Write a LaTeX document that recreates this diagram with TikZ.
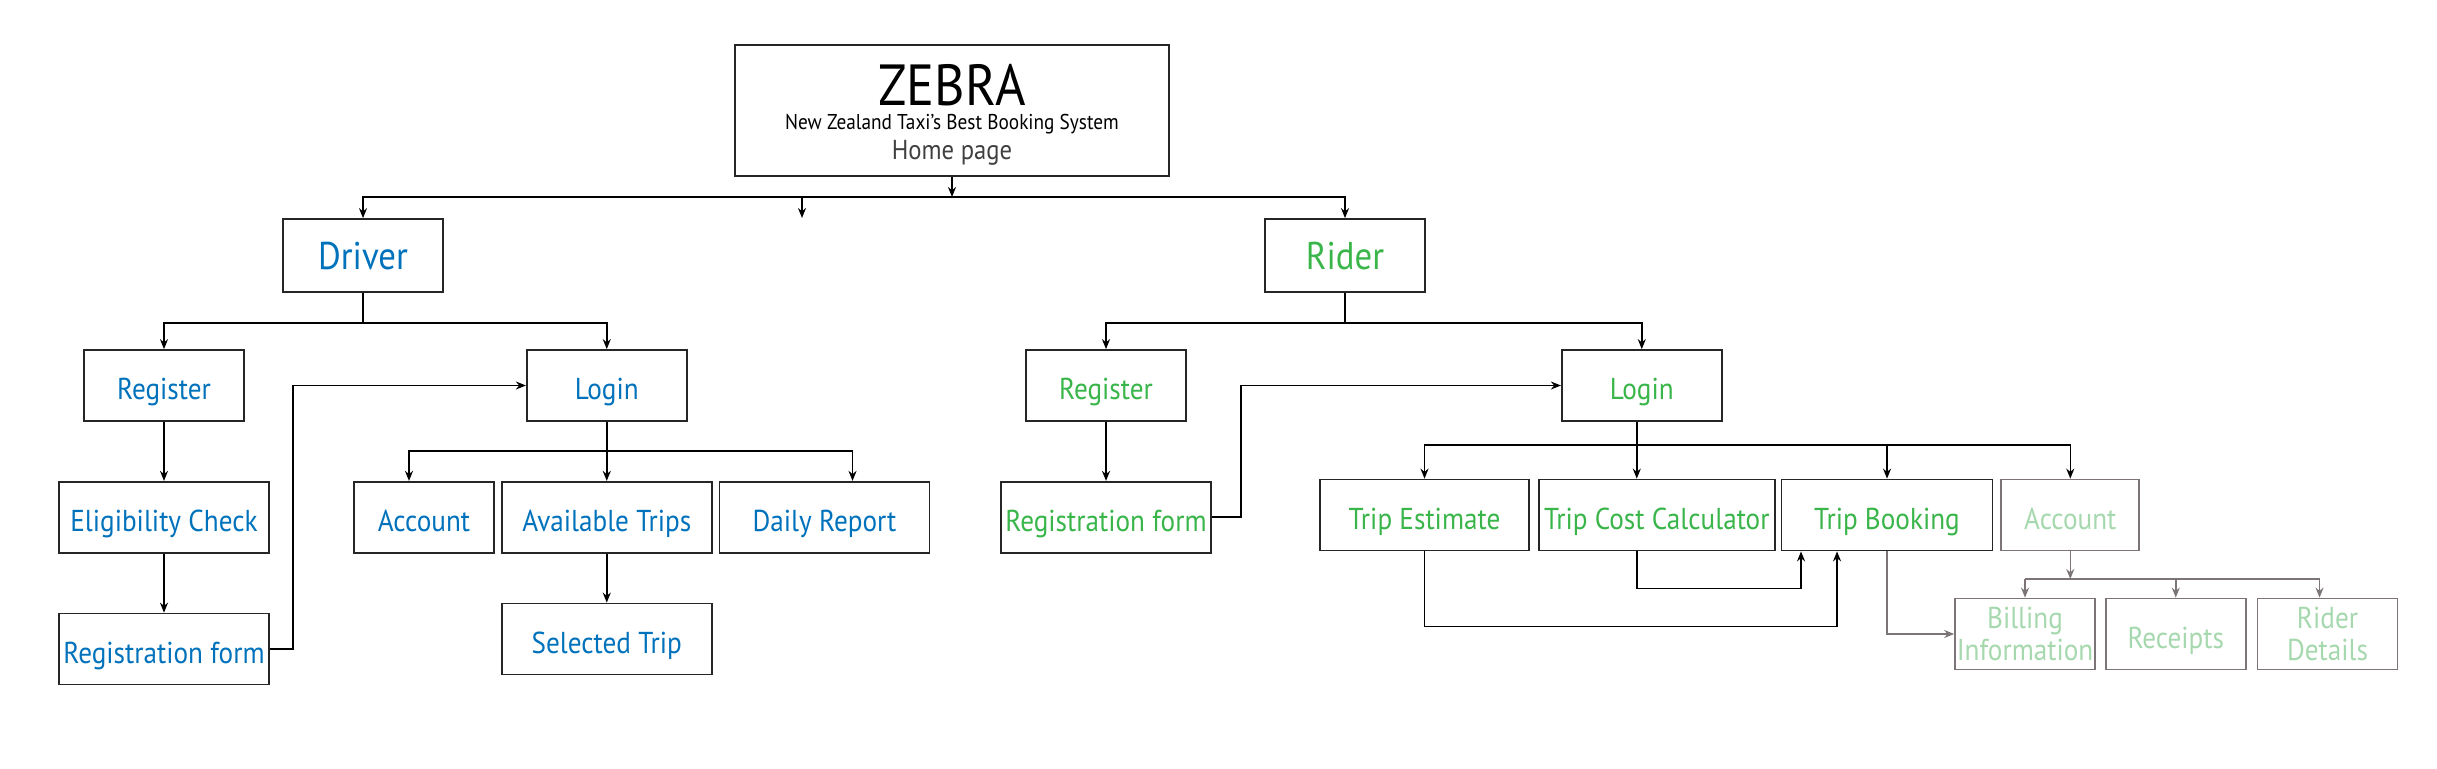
\documentclass[tikz,border=0pt]{standalone}
\usepackage{fontspec}
\setmainfont{PT Sans}[FakeStretch=0.9]
\usetikzlibrary{arrows.meta, positioning, calc}
\definecolor{DrvBlue}{RGB}{0,114,188}
\definecolor{RidGreen}{RGB}{57,181,74}
\definecolor{PaleGreen}{RGB}{166,216,174}
\definecolor{PaleGray}{RGB}{124,116,120}
\definecolor{HomeGray}{RGB}{64,64,64}

\begin{document}
\begin{tikzpicture}[
  frame/.style={draw=black!85, line width=0.5pt, minimum width=1.6cm, minimum height=0.71cm, inner sep=0pt, font=\fontsize{8.6}{9}\selectfont},
  box/.style={frame, text height=1.9ex, text depth=0.3ex},
  wide/.style={box, minimum width=2.1cm},
  drv/.style={text=DrvBlue},
  rid/.style={text=RidGreen},
  pale/.style={frame, draw=PaleGray, text=PaleGreen, minimum width=1.4cm, align=center},
  link/.style={-{Stealth[length=1mm,width=0.8mm]}, line width=0.45pt},
  palelink/.style={link, draw=PaleGray, -{Stealth[length=1mm,width=0.8mm,PaleGray]}}
]
\useasboundingbox (0,0) rectangle (24.37,-7.68);

% home page
\node[frame, minimum width=4.34cm, minimum height=1.31cm, align=center] (H) at (9.52,-1.105)
  {{\fontsize{16.5}{16}\selectfont\rule{0pt}{14.2pt}ZEBRA}\\[-2.4pt]
   {\fontsize{6.1}{6}\selectfont New Zealand Taxi's Best Booking System}\\[-0.4pt]
   {\fontsize{7.8}{8}\selectfont\color{HomeGray} Home page}};
\node[box, drv, minimum height=0.73cm, font=\fontsize{11}{12}\selectfont] (D) at (3.63,-2.555) {Driver};
\node[box, rid, minimum height=0.73cm, font=\fontsize{11}{12}\selectfont] (R) at (13.45,-2.555) {Rider};
\coordinate (Stray) at (8.02,-2.18);

% driver side
\node[box, drv] (DReg) at (1.64,-3.855) {Register};
\node[box, drv, right=2.81cm of DReg] (DLog) {Login};
\node[wide, drv, below=0.59cm of DReg] (Elig) {Eligibility Check};
\node[wide, drv, below=0.59cm of Elig] (DForm) {Registration form};
\node[wide, drv, below=0.59cm of DLog] (Avail) {Available Trips};
\node[box, drv, minimum width=1.4cm, left=0.06cm of Avail] (DAcc) {Account};
\node[wide, drv, right=0.06cm of Avail] (Daily) {Daily Report};
\node[wide, drv, below=0.49cm of Avail] (Sel) {Selected Trip};

% rider side
\node[box, rid] (RReg) at (11.06,-3.855) {Register};
\node[box, rid, right=3.74cm of RReg] (RLog) {Login};
\node[wide, rid, below=0.59cm of RReg] (RForm) {Registration form};
\node[box, rid, minimum width=2.09cm] (Est) at (14.245,-5.15) {Trip Estimate};
\node[box, rid, minimum width=2.36cm, right=0.08cm of Est] (Calc) {Trip Cost Calculator};
\node[box, rid, minimum width=2.11cm, right=0.05cm of Calc] (Book) {Trip Booking};
\node[box, pale, minimum width=1.38cm, right=0.07cm of Book] (RAcc) {Account};
\node[pale] (Bill) at (20.25,-6.34) {Billing\\Information};
\node[box, pale, right=0.09cm of Bill] (Rcpt) {Receipts};
\node[pale, right=0.1cm of Rcpt] (RDet) {Rider\\Details};

% bars
\coordinate (TopBar) at (0,-1.97);
\coordinate (DBar) at (0,-3.23);
\coordinate (DLBar) at (0,-4.51);
\coordinate (RLBar) at (0,-4.45);
\coordinate (RABar) at (0,-5.79);
\coordinate (DAccIn) at ($(DAcc.north)+(-0.15,0)$);
\coordinate (DailyIn) at ($(Daily.north)+(0.28,0)$);
\coordinate (RLogOut) at ($(RLog.south)+(-0.05,0)$);
\coordinate (CalcOut) at ($(Calc.south)+(-0.2,0)$);
\coordinate (BookIn1) at ($(Book.south)+(-0.86,0)$);
\coordinate (BookIn2) at ($(Book.south)+(-0.5,0)$);
\coordinate (RDetIn) at ($(RDet.north)+(-0.08,0)$);

\draw[link] (H.south) -- (H.south |- TopBar);
\draw[link] (H.south |- TopBar) -| (D.north);
\draw[link] (H.south |- TopBar) -| (R.north);
\draw[link] (Stray |- TopBar) -- (Stray);

\draw[link] (D.south) -- (D.south |- DBar) -| (DReg.north);
\draw[link] (D.south |- DBar) -| (DLog.north);
\draw[link] (DReg) -- (Elig);
\draw[link] (Elig) -- (DForm);
\draw[link] (DForm.east) -- ++(0.23,0) |- (DLog.west);
\draw[link] (DLog) -- (Avail);
\draw[link] (DLog.south |- DLBar) -| (DAccIn);
\draw[link] (DLog.south |- DLBar) -| (DailyIn);
\draw[link] (Avail) -- (Sel);

\draw[link] (R.south) -- (R.south |- DBar) -| (RReg.north);
\draw[link] (R.south |- DBar) -| (RLog.north);
\draw[link] (RReg) -- (RForm);
\draw[link] (RForm.east) -- ++(0.29,0) |- (RLog.west);
\draw[link] (RLogOut) -- (RLogOut |- Calc.north);
\draw[link] (RLogOut |- RLBar) -| (Est.north);
\draw[link] (RLogOut |- RLBar) -| (Book.north);
\draw[link] (RLogOut |- RLBar) -| (RAcc.north);
\draw[link] (CalcOut) -- ++(0,-0.37) -| (BookIn1);
\draw[link] (Est.south) -- ++(0,-0.75) -| (BookIn2);
\draw[palelink] (Book.south) |- (Bill.west);

\draw[palelink] (RAcc.south) -- (RAcc.south |- RABar);
\draw[PaleGray, line width=0.45pt] (Bill.north |- RABar) -- (RDetIn |- RABar);
\draw[palelink] (Bill.north |- RABar) -- (Bill.north);
\draw[palelink] (Rcpt.north |- RABar) -- (Rcpt.north);
\draw[palelink] (RDetIn |- RABar) -- (RDetIn);
\end{tikzpicture}
\end{document}
